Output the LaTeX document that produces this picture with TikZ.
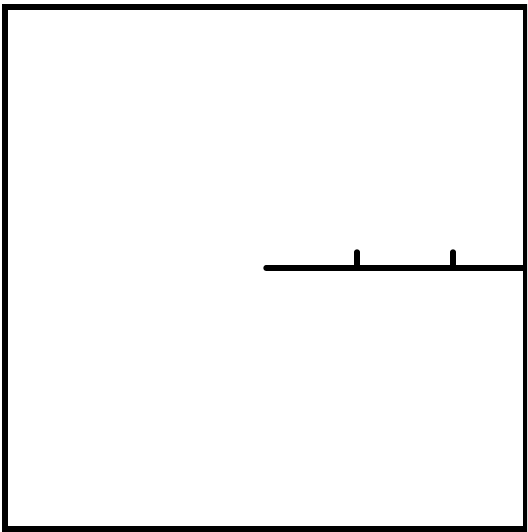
\documentclass[tikz,border=0pt]{standalone}
\begin{document}
\begin{tikzpicture}[x=1pt,y=-1pt,line cap=round]
  \useasboundingbox (0,0) rectangle (527,532);
  \begin{scope}
    \clip (0,0) rectangle (527,532);
    \draw[line width=6pt,line cap=butt] (5,7) rectangle (526,529);
  \end{scope}
  \coordinate (start) at (266,268);
  \coordinate (stop) at (524,268);
  \draw[line width=5.5pt] (start) -- (stop);
  \draw[line width=5.5pt] (357,268) -- (357,252);
  \draw[line width=5.5pt] (453,268) -- (453,252);
\end{tikzpicture}
\end{document}
